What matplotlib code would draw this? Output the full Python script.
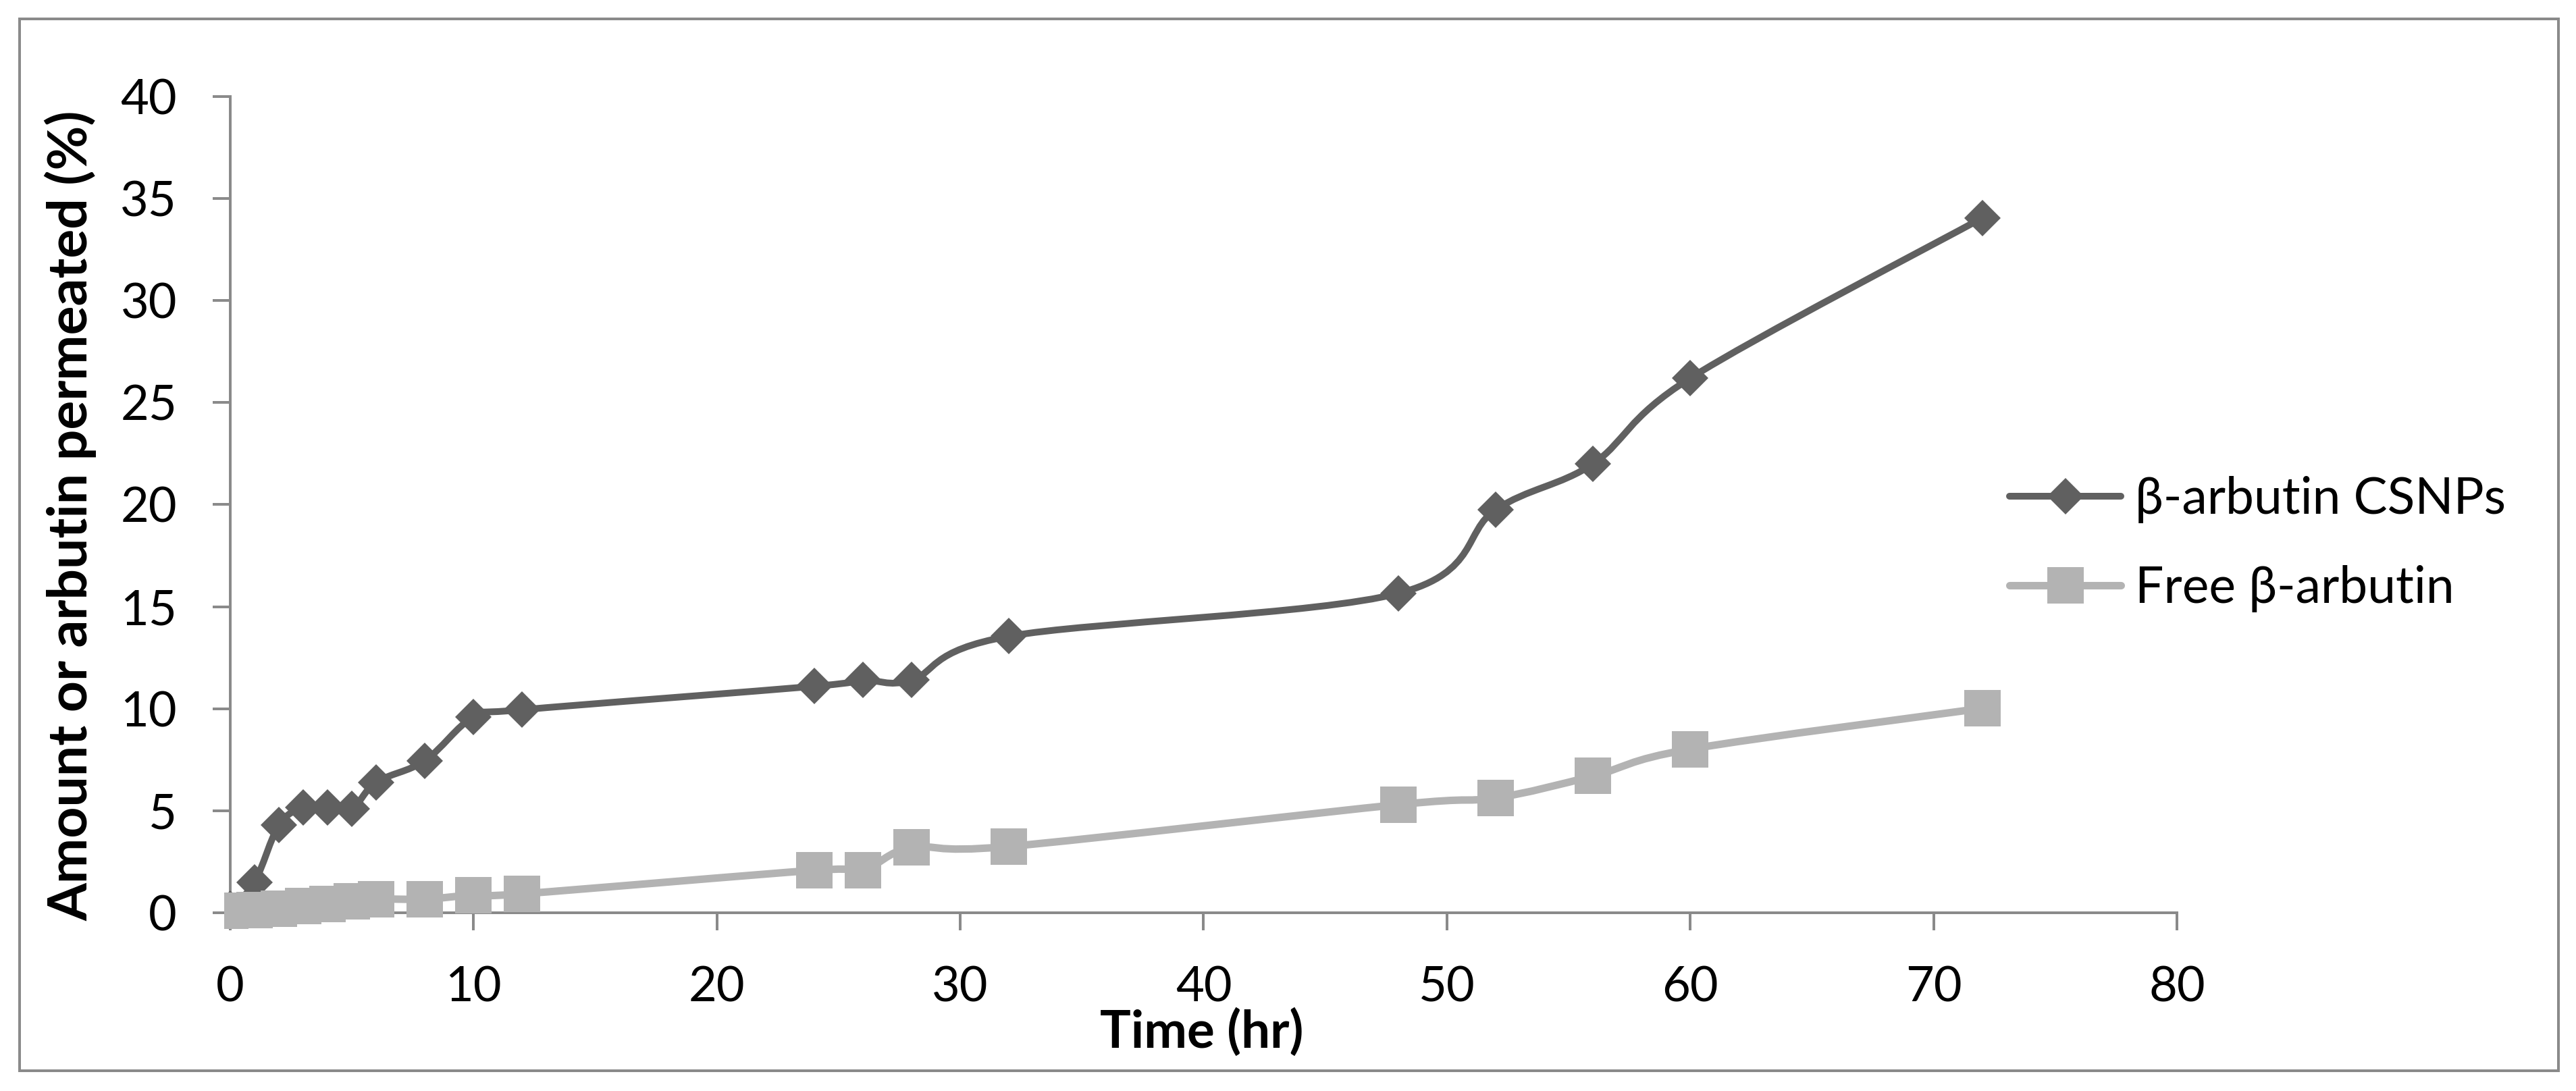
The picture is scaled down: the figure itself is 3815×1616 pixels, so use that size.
import matplotlib
matplotlib.use('Agg')
import matplotlib.pyplot as plt
from matplotlib.path import Path
from matplotlib.patches import PathPatch, Rectangle
from matplotlib.lines import Line2D

plt.rcParams['font.family'] = ['Lato', 'DejaVu Sans']

# Data
time_hr = [0, 1, 2, 3, 4, 5, 6, 8, 10, 12, 24, 26, 28, 32, 48, 52, 56, 60, 72]
csnps = [0.2, 1.5, 4.3, 5.15, 5.15, 5.1, 6.4, 7.45, 9.6, 9.95,
         11.1, 11.4, 11.4, 13.55, 15.65, 19.75, 22.0, 26.2, 34.05]
free = [0.1, 0.13, 0.2, 0.32, 0.43, 0.56, 0.67, 0.67, 0.87, 0.93,
        2.08, 2.1, 3.2, 3.25, 5.3, 5.63, 6.7, 8.02, 10.02]
labels = ['β-arbutin CSNPs', 'Free β-arbutin']

dark = '#606060'
light = '#b3b3b3'
axis_gray = '#8a8a8a'


def smooth_path(x, y):
    # Excel style smoothed line: cubic bezier through every point
    pts = list(zip(x, y))
    n = len(pts)
    verts = [pts[0]]
    codes = [Path.MOVETO]
    for i in range(n - 1):
        p0 = pts[i - 1] if i > 0 else pts[i]
        p1 = pts[i]
        p2 = pts[i + 1]
        p3 = pts[i + 2] if i + 2 < n else pts[i + 1]
        c1 = (p1[0] + (p2[0] - p0[0]) / 6, p1[1] + (p2[1] - p0[1]) / 6)
        c2 = (p2[0] - (p3[0] - p1[0]) / 6, p2[1] - (p3[1] - p1[1]) / 6)
        verts += [c1, c2, p2]
        codes += [Path.CURVE4] * 3
    return Path(verts, codes)


fig = plt.figure(figsize=(19.08, 8.08), dpi=200)
ax = fig.add_axes([0.08936, 0.16337, 0.7555, 0.74814])

clip = Rectangle((-0.003, -0.2), 1.3, 1.4, transform=ax.transAxes)

series = [(csnps, dark, 3.6, 'D', 13.5), (free, light, 4.0, 's', 19.1)]
handles = []
z = 2
for vals, col, lw, mk, ms in series:
    patch = PathPatch(smooth_path(time_hr, vals), fill=False, edgecolor=col,
                      lw=lw, capstyle='round', joinstyle='round', zorder=z)
    ax.add_patch(patch)
    patch.set_clip_path(clip)
    pts, = ax.plot(time_hr, vals, linestyle='none', marker=mk, ms=ms,
                   color=col, markeredgewidth=0, zorder=z + 1)
    pts.set_clip_path(clip)
    handles.append(Line2D([], [], color=col, lw=lw, marker=mk, ms=ms,
                          markeredgewidth=0, solid_capstyle='round'))
    z += 2

ax.set_xlim(0, 80)
ax.set_ylim(0, 40)
ax.set_xticks(range(0, 81, 10))
ax.set_yticks(range(0, 41, 5))
for s in ['top', 'right']:
    ax.spines[s].set_visible(False)
for s in ['left', 'bottom']:
    ax.spines[s].set_color(axis_gray)
    ax.spines[s].set_linewidth(1.44)
ax.tick_params(direction='out', length=9.4, width=1.44, color=axis_gray,
               labelsize=26, pad=19)

fig.text(0.4665, 0.0396, 'Time (hr)', ha='center', va='baseline',
         fontsize=27.5, fontweight='bold')
fig.text(0.0275, 0.5275, 'Amount or arbutin permeated (%)', ha='center',
         va='center', rotation=90, fontsize=29, fontweight='bold')

ax.legend(handles, labels, loc='center left', bbox_to_anchor=(0.7799, 0.5012),
          bbox_transform=fig.transFigure, frameon=False, fontsize=27,
          handlelength=2.2, handletextpad=0.28, labelspacing=0.83,
          borderpad=0, borderaxespad=0)

fig.add_artist(Rectangle((0.0076, 0.0186), 0.9853, 0.9641,
                         transform=fig.transFigure, fill=False,
                         edgecolor=axis_gray, lw=1.44))

fig.savefig('out.png', dpi=200, facecolor='white')
